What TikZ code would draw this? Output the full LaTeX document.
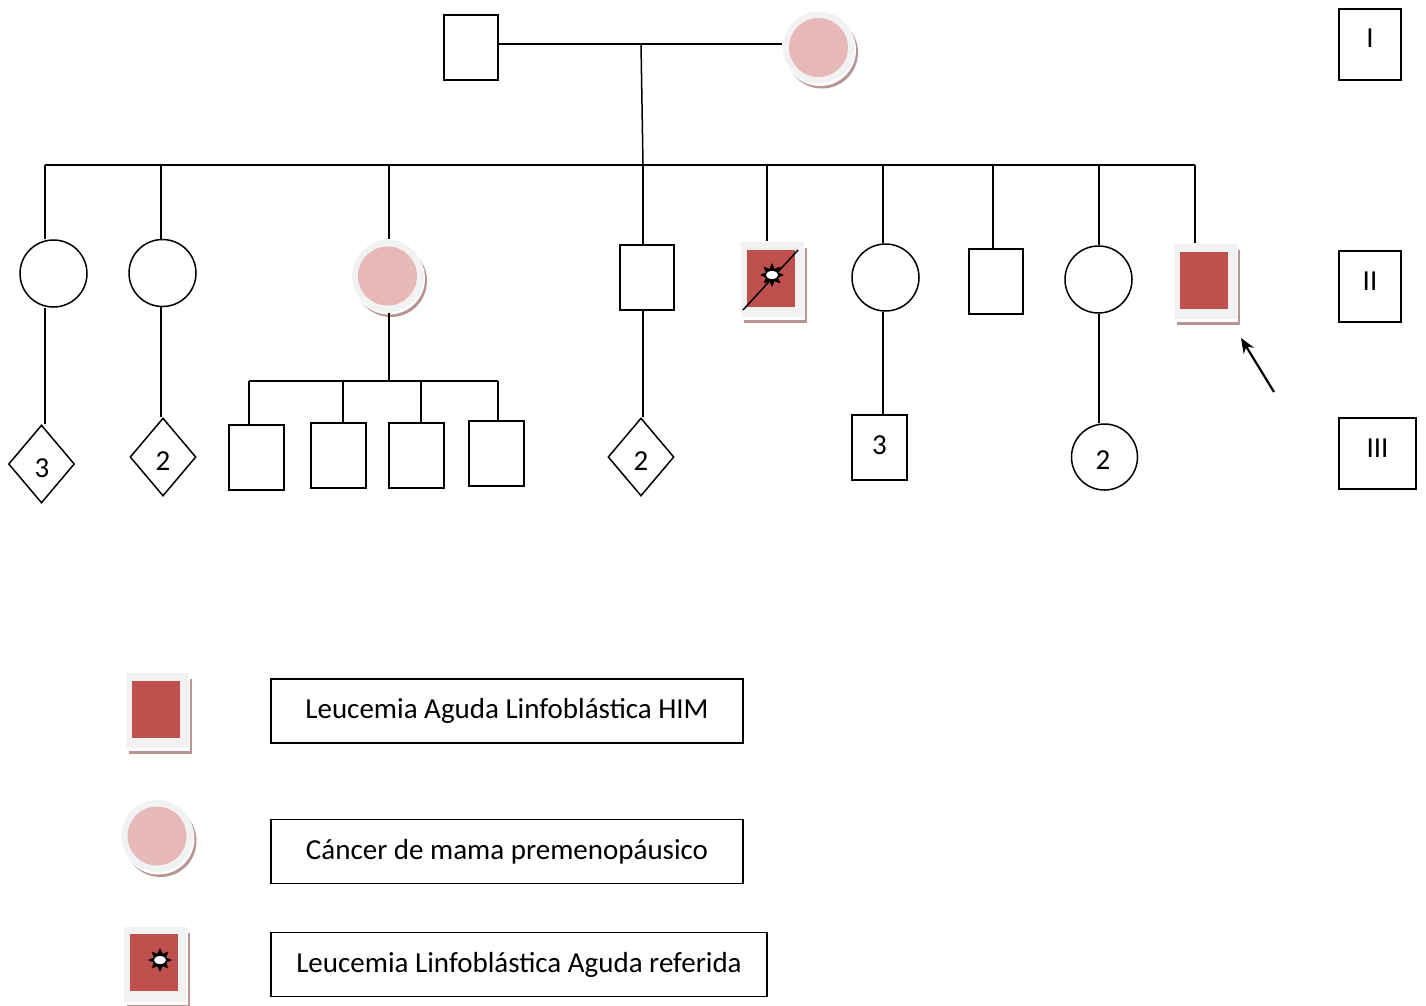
\documentclass[tikz,border=0pt]{standalone}
\usepackage{fontspec}
\setmainfont{Carlito}
\usetikzlibrary{shapes.geometric,arrows.meta,calc}
\definecolor{hemred}{HTML}{C0504D}
\definecolor{mamapink}{HTML}{E6B9B8}
\definecolor{rimgray}{HTML}{F2F2F2}
\definecolor{dropc}{HTML}{B89494}

\tikzset{
  sq/.style={draw, minimum width=54pt, minimum height=65pt, inner sep=0pt},
  ci/.style={draw, circle, minimum size=67pt, inner sep=0pt},
  dia/.style={draw, diamond, minimum width=66pt, minimum height=78pt, inner sep=0pt},
  genbox/.style={draw, minimum width=62pt, minimum height=71pt, inner sep=0pt},
  legbox/.style={draw, minimum height=64pt, inner sep=0pt},
  % layered "affected" square: drop shadow, white gap, grey rim, red core
  hemdrop/.style={fill=dropc, minimum width=63pt, minimum height=75pt, inner sep=0pt, xshift=3pt, yshift=-6pt},
  hemgap/.style={fill=white, minimum width=63pt, minimum height=75pt, inner sep=0pt, xshift=1pt, yshift=-3pt},
  hemrim/.style={fill=rimgray, minimum width=63pt, minimum height=75pt, inner sep=0pt},
  hemcore/.style={fill=hemred, minimum width=48pt, minimum height=57pt, inner sep=0pt, xshift=-1pt, yshift=1.5pt},
  % layered "affected" circle
  mamadrop/.style={circle, fill=dropc, minimum size=72pt, inner sep=0pt, xshift=3pt, yshift=-5pt},
  mamagap/.style={circle, fill=white, minimum size=72pt, inner sep=0pt, xshift=1pt, yshift=-2.5pt},
  mamarim/.style={circle, fill=rimgray, minimum size=72pt, inner sep=0pt},
  mamacore/.style={circle, fill=mamapink, minimum size=59pt, inner sep=0pt, xshift=-0.5pt},
  deathstar/.style={star, star points=8, star point ratio=1.8, fill=black, minimum size=24pt, inner sep=0pt},
  starhole/.style={ellipse, fill=white, minimum width=12pt, minimum height=8pt, inner sep=0pt},
  hemsquare/.pic={
    \node[hemdrop] {};
    \node[hemgap] {};
    \node[hemrim] (-rim) {};
    \node[hemcore] (-core) {};
  },
  mamacircle/.pic={
    \node[mamadrop] {};
    \node[mamagap] {};
    \node[mamarim] (-rim) {};
    \node[mamacore] (-core) {};
  },
}

\begin{document}
\begin{tikzpicture}[x=1pt, y=-1pt, line width=1.5pt, font=\fontsize{29}{34}\selectfont]
\useasboundingbox (0,0) rectangle (1426,1005);

% ---------- generation I ----------
\node[sq] (f) at (471,47.5) {};
\pic (m) at (819,47.5) {mamacircle};

% ---------- generation II ----------
\node[ci] (c1) at (53.5,273.5) {};
\node[ci] (c2) at (162.5,273) {};
\pic (c3) at (388,276) {mamacircle};
\node[sq] (s4) at (647,277.5) {};
\pic (d5) at (772,279.5) {hemsquare};
\node[ci] (c6) at (885.5,277.5) {};
\node[sq] (s7) at (996,281.5) {};
\node[ci] (c8) at (1098.5,279.5) {};
\pic (p9) at (1205,281.5) {hemsquare};

% ---------- generation III ----------
\node[dia] (dA) at (41.5,464) {};
\node (dAt) at (42,468) {3};
\node[dia] (dB) at (163,457) {};
\node (dBt) at (163,461) {2};
\node[sq, minimum width=55pt] (q1) at (256.5,457.5) {};
\node[sq, minimum width=55pt] (q2) at (338.5,455.5) {};
\node[sq, minimum width=55pt] (q3) at (416.5,455.5) {};
\node[sq, minimum width=55pt] (q4) at (496.5,453.5) {};
\node[dia] (dC) at (641,457) {};
\node (dCt) at (641,461) {2};
\node[sq, minimum width=55pt] (s3) at (879.5,447.5) {};
\node (s3t) at (879.5,445) {3};
\node[ci, minimum size=66pt] (cc) at (1104.5,457) {};
\node (cct) at (1103,460) {2};

% ---------- generation labels ----------
\node[genbox] (gI) at (1370,44.5) {};
\node (gIt) at (1370,38) {I};
\node[genbox] (gII) at (1370,286.5) {};
\node (gIIt) at (1370,281) {II};
\node[genbox, minimum width=77pt] (gIII) at (1377.5,453.5) {};
\node (gIIIt) at (1377.5,448) {III};

% ---------- connectors ----------
\coordinate (mid) at (641,44);
\coordinate (sib) at (643,165);
\coordinate (k1) at (45,165);
\coordinate (k2) at (161,165);
\coordinate (k3) at (389,165);
\coordinate (k4) at (643,165);
\coordinate (k5) at (767,165);
\coordinate (k6) at (883,165);
\coordinate (k7) at (993,165);
\coordinate (k8) at (1099,165);
\coordinate (k9) at (1195,165);

\draw (f.east |- mid) -- (m-rim.west |- mid);
\draw (mid) -- (sib);
\draw (k1) -- (k9);

\draw (k1) -- (k1 |- c1.north);
\draw (c1.south -| k1) -- (dA.north -| k1);
\draw (k2) -- (k2 |- c2.north);
\draw (c2.south -| k2) -- (dB.north -| k2);
\draw (k3) -- (k3 |- c3-rim.north);
\draw (c3-rim.south -| k3) -- (389,381) coordinate (kid);
\coordinate (kidL) at (249,381);
\coordinate (kidR) at (498,381);
\draw (kidL) -- (kidR);
\draw (kidL) -- (kidL |- q1.north);
\draw (kid -| 343,0) -- (q2.north -| 343,0);
\draw (kid -| 421,0) -- (q3.north -| 421,0);
\draw (kidR) -- (kidR |- q4.north);
\draw (k4) -- (k4 |- s4.north);
\draw (s4.south -| k4) -- (dC.north -| k4);
\draw (k5) -- (k5 |- d5-rim.north);
\draw (k6) -- (k6 |- c6.north);
\draw (c6.south -| k6) -- (s3.north -| k6);
\draw (k7) -- (k7 |- s7.north);
\draw (k8) -- (k8 |- c8.north);
\draw (c8.south -| k8) -- (cc.north -| k8);
\draw (k9) -- (k9 |- p9-rim.north);

% deceased mark across the square
\coordinate (dxA) at (743,310);
\coordinate (dxB) at (798,250);
\draw (dxA) -- (dxB);
\node[deathstar] (d5star) at (772,275) {};
\node[starhole] (d5hole) at (772,275) {};

% proband arrow
\coordinate (arrT) at (1274,392);
\coordinate (arrH) at (1241,338);
\draw[line width=2.2pt, -{Stealth[length=15pt, width=12pt]}] (arrT) -- (arrH);

% ---------- legend ----------
\pic (L1) at (157,710.5) {hemsquare};
\node[legbox, minimum width=472pt] (b1) at (507,711) {Leucemia Aguda Linfoblástica HIM};
\pic (L2) at (157.5,836) {mamacircle};
\node[legbox, minimum width=472pt] (b2) at (507,851.5) {Cáncer de mama premenopáusico};
\pic (L3) at (155,964) {hemsquare};
\node[deathstar] (L3star) at (160,960) {};
\node[starhole] (L3hole) at (160,960) {};
\node[legbox, minimum width=496pt] (b3) at (519,964.5) {Leucemia Linfoblástica Aguda referida};
\end{tikzpicture}
\end{document}
